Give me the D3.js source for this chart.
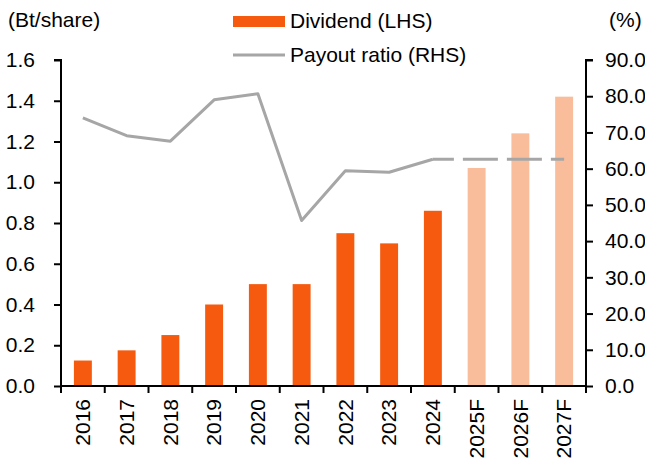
<!DOCTYPE html>
<html>
<head>
<meta charset="utf-8">
<script src="https://cdn.jsdelivr.net/npm/d3@7"></script>
<style>
  body { margin: 0; background: #fff; }
  svg text { font-family: "Liberation Sans", Arial, sans-serif; fill: #000; }
</style>
</head>
<body>
<svg id="chart"></svg>
<script>
const categories = ['2016', '2017', '2018', '2019', '2020', '2021', '2022', '2023', '2024', '2025F', '2026F', '2027F'];
const dividend = [0.125, 0.175, 0.25, 0.40, 0.50, 0.50, 0.75, 0.70, 0.86, 1.07, 1.24, 1.42];
const payout = [74.0, 69.1, 67.6, 79.0, 80.7, 45.7, 59.4, 59.0, 62.6, 62.6, 62.6, 62.6];
const forecast = ['2025F', '2026F', '2027F'];
const leftTicks = [0, 0.2, 0.4, 0.6, 0.8, 1.0, 1.2, 1.4, 1.6];
const rightTicks = [0, 10, 20, 30, 40, 50, 60, 70, 80, 90];

const width = 645;
const height = 461;
const plot = { left: 61, right: 586, top: 60, bottom: 386 };
const fontSize = 21;

const svg = d3.select('#chart')
  .attr('width', width)
  .attr('height', height);

const x = d3.scaleBand()
  .domain(categories)
  .range([plot.left, plot.right])
  .paddingInner(0.59)
  .paddingOuter(0.295);

// slots without padding, for the tick marks between categories
const xSlot = d3.scaleBand()
  .domain(categories)
  .range([plot.left, plot.right])
  .padding(0);

const yLeft = d3.scaleLinear().domain([0, 1.6]).range([plot.bottom, plot.top]);
const yRight = d3.scaleLinear().domain([0, 90]).range([plot.bottom, plot.top]);

// bars
svg.append('g')
  .selectAll('rect')
  .data(categories)
  .join('rect')
  .attr('x', d => x(d))
  .attr('width', x.bandwidth())
  .attr('y', (d, i) => yLeft(dividend[i]))
  .attr('height', (d, i) => yLeft(0) - yLeft(dividend[i]))
  .attr('fill', d => forecast.includes(d) ? '#F9BD9C' : '#F55A0E');

// payout line
const pts = categories.map((c, i) => ({ c, v: payout[i] }));
const line = d3.line()
  .x(d => x(d.c) + x.bandwidth() / 2)
  .y(d => yRight(d.v));

const lastActual = categories.indexOf('2024');

svg.append('path')
  .datum(pts.slice(0, lastActual + 1))
  .attr('fill', 'none')
  .attr('stroke', '#A6A6A6')
  .attr('stroke-width', 3)
  .attr('stroke-linejoin', 'round')
  .attr('d', line);

svg.append('path')
  .datum(pts.slice(lastActual))
  .attr('fill', 'none')
  .attr('stroke', '#A6A6A6')
  .attr('stroke-width', 3)
  .attr('stroke-dasharray', '35,9')
  .attr('stroke-dashoffset', 14)
  .attr('d', line);

// left axis
const leftAxis = svg.append('g')
  .attr('transform', `translate(${plot.left},0)`)
  .call(d3.axisLeft(yLeft).tickValues(leftTicks).tickFormat(d3.format('.1f')).tickSize(7).tickPadding(19));
leftAxis.select('.domain').attr('stroke-width', 2).attr('d', `M-7,${plot.top}H0V${plot.bottom}`);
leftAxis.selectAll('line').attr('stroke-width', 2);
leftAxis.selectAll('text').attr('font-size', fontSize).attr('font-family', '"Liberation Sans", Arial, sans-serif');

// right axis
const rightAxis = svg.append('g')
  .attr('transform', `translate(${plot.right},0)`)
  .call(d3.axisRight(yRight).tickValues(rightTicks).tickFormat(d3.format('.1f')).tickSize(7).tickPadding(12));
rightAxis.select('.domain').attr('stroke-width', 2).attr('d', `M7,${plot.top}H0V${plot.bottom}`);
rightAxis.selectAll('line').attr('stroke-width', 2);
rightAxis.selectAll('text').attr('font-size', fontSize).attr('font-family', '"Liberation Sans", Arial, sans-serif');

// bottom axis: labels from the band scale, ticks at slot edges
const bottomAxis = svg.append('g')
  .attr('transform', `translate(0,${plot.bottom})`)
  .call(d3.axisBottom(x).tickSize(0));
bottomAxis.select('.domain').remove();
bottomAxis.selectAll('text')
  .attr('font-size', fontSize)
  .attr('font-family', '"Liberation Sans", Arial, sans-serif')
  .attr('transform', 'rotate(-90)')
  .attr('x', -13)
  .attr('y', 0)
  .attr('dy', '0.35em')
  .style('text-anchor', 'end');

const edges = categories.map(c => xSlot(c)).concat([plot.right]);
bottomAxis.selectAll('.edge')
  .data(edges)
  .join('line')
  .attr('class', 'edge')
  .attr('x1', d => d).attr('x2', d => d)
  .attr('y1', 0).attr('y2', 7)
  .attr('stroke', '#000')
  .attr('stroke-width', 2);
bottomAxis.append('line')
  .attr('x1', plot.left - 1).attr('x2', plot.right + 1)
  .attr('y1', 0).attr('y2', 0)
  .attr('stroke', '#000')
  .attr('stroke-width', 2);

// axis titles
svg.append('text').attr('x', 8).attr('y', 27).attr('font-size', fontSize).text('(Bt/share)');
svg.append('text').attr('x', 609).attr('y', 27).attr('font-size', fontSize).text('(%)');

// legend
const legend = svg.append('g');
legend.append('rect')
  .attr('x', 233).attr('y', 16).attr('width', 52).attr('height', 11)
  .attr('fill', '#F55A0E');
legend.append('text').attr('x', 290).attr('y', 28).attr('font-size', fontSize).text('Dividend (LHS)');
legend.append('line')
  .attr('x1', 233).attr('x2', 285).attr('y1', 55).attr('y2', 55)
  .attr('stroke', '#A6A6A6').attr('stroke-width', 3);
legend.append('text').attr('x', 290).attr('y', 62).attr('font-size', fontSize).text('Payout ratio (RHS)');
</script>
</body>
</html>
